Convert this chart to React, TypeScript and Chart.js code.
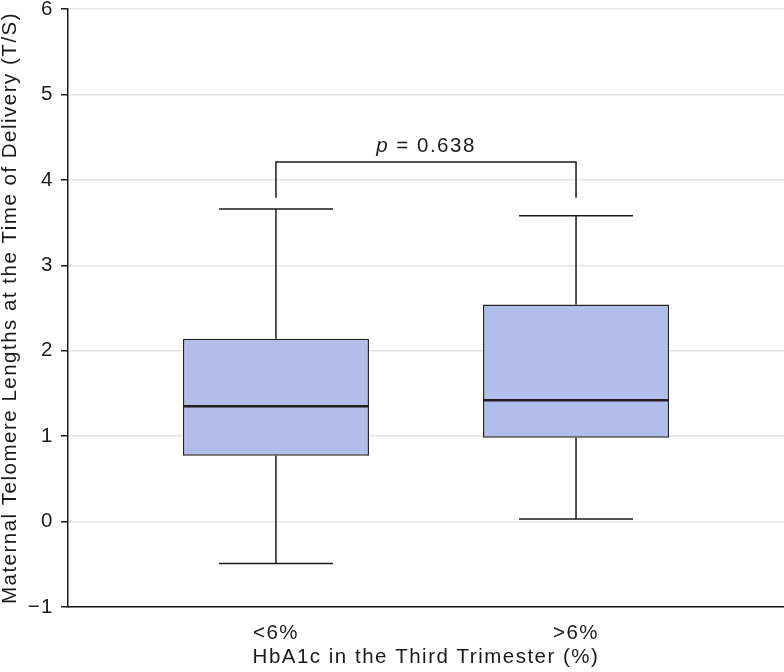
import { useEffect, useRef } from 'react';
import { Chart, registerables } from 'chart.js';

Chart.register(...registerables);

// Box-plot summary per HbA1c group
const CATEGORIES = ['<6%', '>6%'];
const WHISKER_LOW = [-0.49, 0.03];
const Q1 = [0.77, 0.98];
const MEDIAN = [1.35, 1.42];
const Q3 = [2.14, 2.54];
const WHISKER_HIGH = [3.66, 3.58];

// Value axis
const Y_TICKS = [-1, 0, 1, 2, 3, 4, 5, 6];

// Significance bracket between the two groups
const P_VALUE = '0.638';
const BRACKET_TOP = 4.21;
const BRACKET_FOOT = 3.79;

const FONT = "'Liberation Sans', Arial, Helvetica, sans-serif";
const INK = '#1a1a1a';
const BOX_FILL = '#b1bdea';
const BOX_EDGE = '#2a2326';
const TRACKING = '1.5px';
const FONT_SIZE = 20.5;
const CAP_HALF = 0.19;

const trackingPlugin = {
  id: 'tracking',
  beforeUpdate(chart: any) {
    chart.ctx.letterSpacing = TRACKING;
  },
  beforeDraw(chart: any) {
    chart.ctx.letterSpacing = TRACKING;
  },
};

const boxWhiskerPlugin = {
  id: 'boxWhisker',
  afterDatasetsDraw(chart: any) {
    const ctx = chart.ctx;
    const xs = chart.scales.x;
    const ys = chart.scales.y;
    const meta = chart.getDatasetMeta(0);
    ctx.save();
    ctx.lineCap = 'butt';
    meta.data.forEach((bar: any, i: number) => {
      const cx = bar.x;
      const half = bar.width / 2;
      const capL = xs.getPixelForValue(i + 1 - CAP_HALF);
      const capR = xs.getPixelForValue(i + 1 + CAP_HALF);
      const yHi = ys.getPixelForValue(WHISKER_HIGH[i]);
      const yLo = ys.getPixelForValue(WHISKER_LOW[i]);
      const yQ3 = ys.getPixelForValue(Q3[i]);
      const yQ1 = ys.getPixelForValue(Q1[i]);
      const yMed = ys.getPixelForValue(MEDIAN[i]);

      ctx.strokeStyle = INK;
      ctx.lineWidth = 1.5;
      ctx.beginPath();
      // upper whisker + cap
      ctx.moveTo(cx, yQ3);
      ctx.lineTo(cx, yHi);
      ctx.moveTo(capL, yHi);
      ctx.lineTo(capR, yHi);
      // lower whisker + cap
      ctx.moveTo(cx, yQ1);
      ctx.lineTo(cx, yLo);
      ctx.moveTo(capL, yLo);
      ctx.lineTo(capR, yLo);
      ctx.stroke();

      // median
      ctx.strokeStyle = '#221c1f';
      ctx.lineWidth = 2.5;
      ctx.beginPath();
      ctx.moveTo(cx - half, yMed);
      ctx.lineTo(cx + half, yMed);
      ctx.stroke();
    });

    // significance bracket
    const x1 = xs.getPixelForValue(1);
    const x2 = xs.getPixelForValue(2);
    const yTop = ys.getPixelForValue(BRACKET_TOP);
    const yFoot = ys.getPixelForValue(BRACKET_FOOT);
    ctx.strokeStyle = INK;
    ctx.lineWidth = 1.5;
    ctx.beginPath();
    ctx.moveTo(x1, yFoot);
    ctx.lineTo(x1, yTop);
    ctx.lineTo(x2, yTop);
    ctx.lineTo(x2, yFoot);
    ctx.stroke();

    // "p = 0.638" label, italic p
    ctx.letterSpacing = TRACKING;
    ctx.fillStyle = INK;
    ctx.textBaseline = 'alphabetic';
    ctx.textAlign = 'left';
    const italic = `italic ${FONT_SIZE}px ${FONT}`;
    const normal = `${FONT_SIZE}px ${FONT}`;
    const rest = ` = ${P_VALUE}`;
    ctx.font = italic;
    const wP = ctx.measureText('p').width;
    ctx.font = normal;
    const wRest = ctx.measureText(rest).width;
    const start = (x1 + x2) / 2 - (wP + wRest) / 2;
    const baseY = yTop - 10;
    ctx.font = italic;
    ctx.fillText('p', start, baseY);
    ctx.font = normal;
    ctx.fillText(rest, start + wP, baseY);
    ctx.restore();
  },
};

export default function App() {
  const canvasRef = useRef<HTMLCanvasElement | null>(null);

  useEffect(() => {
    if (!canvasRef.current) return;
    Chart.defaults.font.family = FONT;
    Chart.defaults.color = INK;

    const chart = new Chart(canvasRef.current, {
      type: 'bar',
      data: {
        datasets: [
          {
            data: CATEGORIES.map((_, i) => ({ x: i + 1, y: [Q1[i], Q3[i]] })) as any,
            backgroundColor: BOX_FILL,
            borderColor: BOX_EDGE,
            borderWidth: 1.5,
            borderSkipped: false,
            categoryPercentage: 1,
            barPercentage: 0.62,
          },
        ],
      },
      options: {
        responsive: false,
        animation: false,
        layout: { padding: 0 },
        plugins: {
          legend: { display: false },
          tooltip: { enabled: false },
        },
        scales: {
          x: {
            type: 'linear',
            min: 0.307,
            max: 2.693,
            offset: false,
            afterBuildTicks: (s: any) => {
              s.ticks = CATEGORIES.map((_, i) => ({ value: i + 1 }));
            },
            ticks: {
              callback: (v: any) => CATEGORIES[Number(v) - 1] ?? '',
              padding: 14,
              font: { size: FONT_SIZE },
              color: INK,
              maxRotation: 0,
              autoSkip: false,
            },
            grid: { display: false, drawTicks: false, offset: false },
            border: { display: true, color: INK, width: 1.5 },
            title: {
              display: true,
              text: 'HbA1c in the Third Trimester (%)',
              font: { size: FONT_SIZE, lineHeight: 1 },
              padding: { top: 0, bottom: 4 },
              color: INK,
            },
            afterFit: (s: any) => {
              s.height = 65;
              s.paddingLeft = 0;
              s.paddingRight = 0;
            },
          } as any,
          y: {
            type: 'linear',
            min: -1,
            max: 6,
            afterBuildTicks: (s: any) => {
              s.ticks = Y_TICKS.map((v) => ({ value: v }));
            },
            ticks: {
              padding: 7,
              font: { size: FONT_SIZE },
              color: INK,
              callback: (v: any) => (Number(v) < 0 ? '\u2212' + Math.abs(Number(v)) : String(v)),
            },
            grid: {
              color: '#e4e4e4',
              lineWidth: 1.5,
              tickColor: INK,
              tickLength: 7,
              tickWidth: 1.5,
            },
            border: { display: true, color: INK, width: 1.5 },
            title: {
              display: true,
              text: 'Maternal Telomere Lengths at the Time of Delivery (T/S)',
              font: { size: FONT_SIZE, lineHeight: 1 },
              padding: { top: 0, bottom: 0 },
              color: INK,
            },
            afterFit: (s: any) => {
              s.width = 68;
              s.paddingTop = 9;
              s.paddingBottom = 0;
            },
          } as any,
        },
      },
      plugins: [trackingPlugin, boxWhiskerPlugin],
    });

    return () => chart.destroy();
  }, []);

  return (
    <div style={{ position: 'absolute', left: 0, top: 0, width: 784, height: 672, background: '#fff' }}>
      <canvas ref={canvasRef} width={784} height={672} style={{ display: 'block' }} />
    </div>
  );
}
